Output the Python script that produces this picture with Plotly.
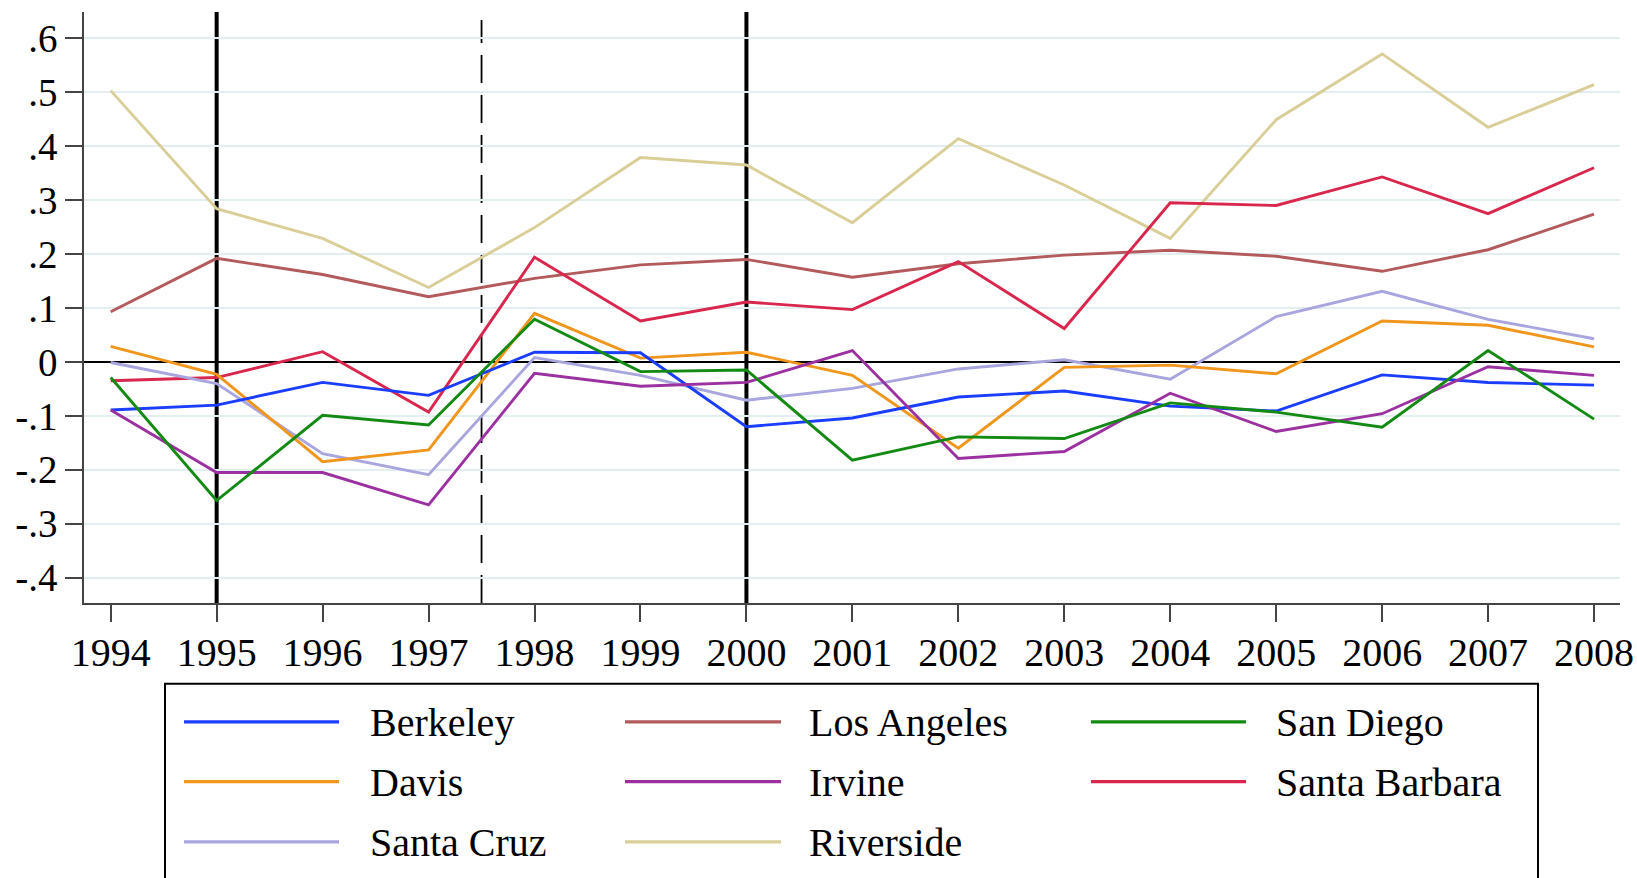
import plotly.graph_objects as go

# ---------------- data ----------------
years = list(range(1994, 2009))

campuses = ["Berkeley", "Los Angeles", "San Diego", "Davis", "Irvine",
            "Santa Barbara", "Santa Cruz", "Riverside"]

berkeley = [-0.089, -0.080, -0.038, -0.062, 0.018, 0.017, -0.120, -0.104,
            -0.065, -0.054, -0.082, -0.091, -0.024, -0.038, -0.043]
los_angeles = [0.093, 0.192, 0.162, 0.121, 0.155, 0.180, 0.190, 0.157,
               0.182, 0.198, 0.207, 0.196, 0.168, 0.208, 0.274]
san_diego = [-0.029, -0.257, -0.099, -0.117, 0.079, -0.018, -0.015, -0.182,
             -0.139, -0.142, -0.076, -0.093, -0.121, 0.021, -0.106]
davis = [0.029, -0.023, -0.185, -0.163, 0.090, 0.007, 0.018, -0.025,
         -0.160, -0.010, -0.006, -0.022, 0.076, 0.068, 0.028]
irvine = [-0.089, -0.205, -0.205, -0.265, -0.021, -0.045, -0.038, 0.021,
          -0.179, -0.166, -0.058, -0.129, -0.096, -0.009, -0.025]
santa_barbara = [-0.035, -0.029, 0.019, -0.093, 0.194, 0.076, 0.111, 0.097,
                 0.186, 0.062, 0.295, 0.290, 0.343, 0.275, 0.360]
santa_cruz = [-0.001, -0.040, -0.170, -0.209, 0.008, -0.025, -0.071, -0.049,
              -0.013, 0.004, -0.032, 0.084, 0.131, 0.079, 0.043]
riverside = [0.503, 0.284, 0.229, 0.138, 0.249, 0.379, 0.365, 0.258,
             0.414, 0.328, 0.229, 0.449, 0.571, 0.435, 0.514]

series = [berkeley, los_angeles, san_diego, davis, irvine,
          santa_barbara, santa_cruz, riverside]

colors = ["#1a3dff", "#b35a5c", "#138a13", "#f0961c", "#9b30a0",
          "#d9264d", "#a9a5de", "#d9ce98"]

y_tick_vals = [0.6, 0.5, 0.4, 0.3, 0.2, 0.1, 0.0, -0.1, -0.2, -0.3, -0.4]
y_tick_text = [".6", ".5", ".4", ".3", ".2", ".1", "0", "-.1", "-.2", "-.3", "-.4"]

solid_event_years = [1995, 2000]
dashed_event_years = [1997.5]

# ---------------- layout geometry (page pixels) ----------------
W, H = 1637, 878
PLOT_L, PLOT_R, PLOT_T, PLOT_B = 84, 1620, 12, 603.3


def px_x(p):
    return (p - PLOT_L) / (PLOT_R - PLOT_L)


def px_y(p):
    return (PLOT_B - p) / (PLOT_B - PLOT_T)


FONT = "Liberation Serif, Times New Roman, serif"

fig = go.Figure()

draw_order = [7, 1, 5, 6, 3, 0, 4, 2]
for i in draw_order:
    fig.add_trace(go.Scatter(
        x=years, y=series[i], mode="lines", name=campuses[i],
        line=dict(color=colors[i], width=2.9), showlegend=False,
    ))

shapes = []
for yr in solid_event_years:
    shapes.append(dict(type="line", xref="x", yref="paper", x0=yr, x1=yr,
                       y0=0, y1=1, line=dict(color="black", width=4),
                       layer="between"))
for yr in dashed_event_years:
    shapes.append(dict(type="line", xref="x", yref="paper", x0=yr, x1=yr,
                       y0=0, y1=px_y(20), line=dict(color="black", width=1.8,
                                                    dash="28px,12px"),
                       layer="between"))

# legend box (custom, Stata-like long swatches)
shapes.append(dict(type="rect", xref="paper", yref="paper",
                   x0=px_x(165), x1=px_x(1538), y0=px_y(684), y1=px_y(905),
                   line=dict(color="black", width=2), fillcolor="rgba(0,0,0,0)"))

col_swatch = [(184, 339), (625, 781), (1091, 1246)]
col_text = [367.5, 807, 1274]
row_y = [722.3, 782, 842.3]

annotations = []
for k, name in enumerate(campuses):
    r, c = divmod(k, 3)
    x0, x1 = col_swatch[c]
    shapes.append(dict(type="line", xref="paper", yref="paper",
                       x0=px_x(x0), x1=px_x(x1), y0=px_y(row_y[r]), y1=px_y(row_y[r]),
                       line=dict(color=colors[k], width=3.2)))
    annotations.append(dict(xref="paper", yref="paper", x=px_x(col_text[c]),
                            y=px_y(row_y[r] + 1), text=name, showarrow=False,
                            xanchor="left", yanchor="middle",
                            font=dict(family=FONT, size=40, color="black")))

fig.update_layout(
    width=W, height=H,
    margin=dict(l=PLOT_L, r=W - PLOT_R, t=PLOT_T, b=H - PLOT_B, autoexpand=False),
    paper_bgcolor="white", plot_bgcolor="white",
    shapes=shapes, annotations=annotations,
    showlegend=False,
    font=dict(family=FONT, color="black"),
)

fig.update_xaxes(
    range=[1993.748, 2008.245], tickmode="array", tickvals=years,
    ticktext=[str(y) for y in years],
    showgrid=False, zeroline=False,
    showline=True, linecolor="#444", linewidth=2,
    ticks="outside", ticklen=17, tickwidth=1.6, tickcolor="#444",
    tickfont=dict(family=FONT, size=40, color="black"),
    ticklabelstandoff=-4,
)
fig.update_yaxes(
    range=[-0.4469, 0.6487], tickmode="array", tickvals=y_tick_vals,
    ticktext=y_tick_text,
    showgrid=True, gridcolor="#e3eef0", gridwidth=2,
    zeroline=True, zerolinecolor="black", zerolinewidth=2.4,
    showline=True, linecolor="#444", linewidth=1.6,
    ticks="outside", ticklen=17, tickwidth=1.6, tickcolor="#444",
    tickfont=dict(family=FONT, size=39, color="black"),
    ticklabelstandoff=0,
)

fig.write_html(
    "out.html",
    config={"displayModeBar": False},
    post_script="document.body.style.margin='0';document.body.style.overflow='hidden';",
)
